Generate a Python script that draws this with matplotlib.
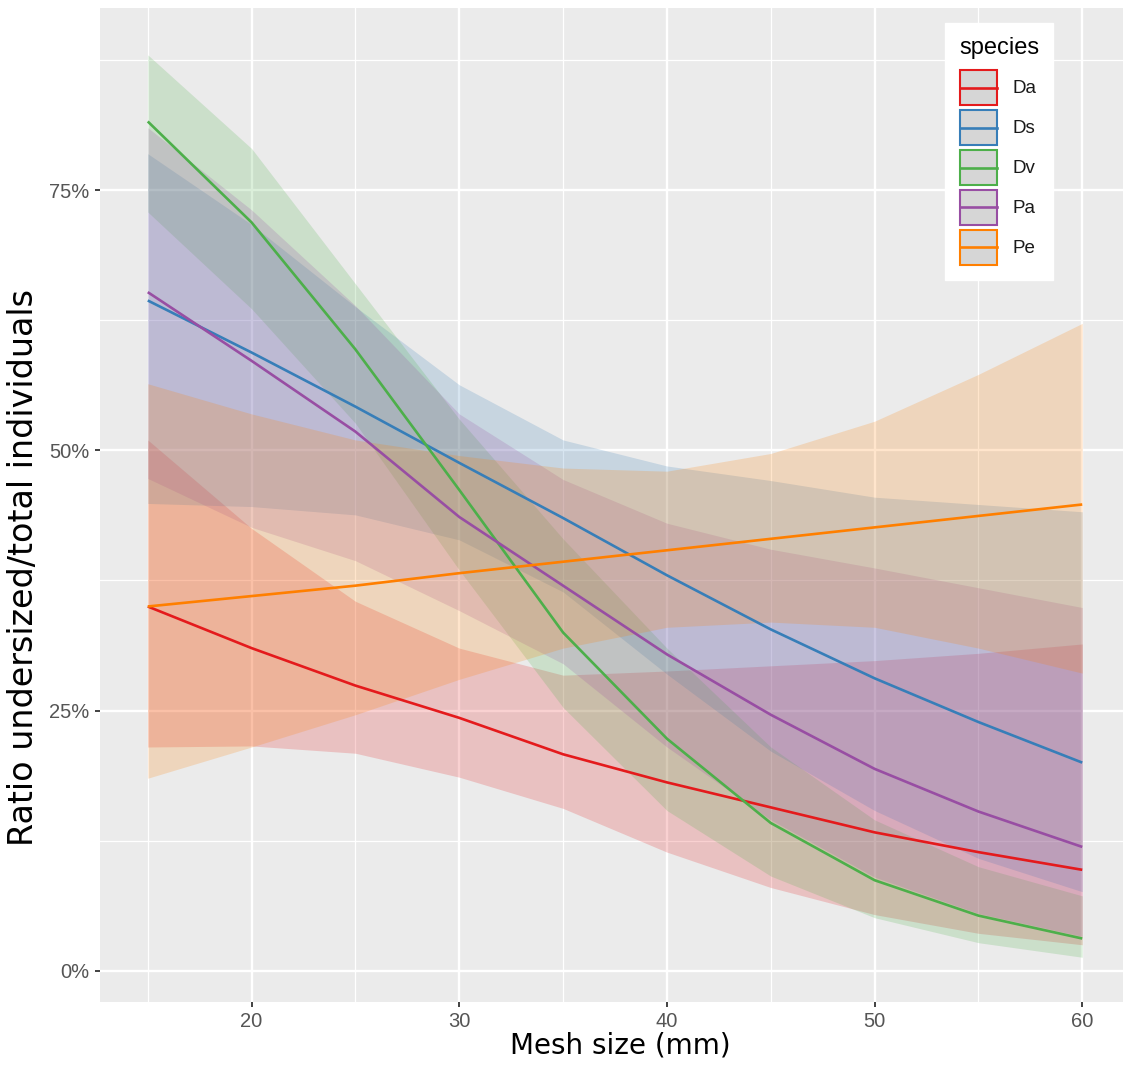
import numpy as np
import matplotlib
matplotlib.use("Agg")
import matplotlib.pyplot as plt
from matplotlib.patches import Rectangle
from matplotlib.lines import Line2D
from matplotlib.ticker import FixedLocator, FuncFormatter

# predicted ratio (%) and confidence band per species, by mesh size (mm)
mesh = [15, 20, 25, 30, 35, 40, 45, 50, 55, 60]
species = ["Da", "Ds", "Dv", "Pa", "Pe"]

Da_fit = [35.0, 31.0, 27.4, 24.3, 20.8, 18.1, 15.7, 13.3, 11.4, 9.7]
Da_lo = [21.5, 21.6, 20.9, 18.6, 15.6, 11.4, 8.0, 5.4, 3.6, 2.5]
Da_hi = [51.0, 42.5, 35.5, 31.0, 28.4, 28.8, 29.3, 29.8, 30.5, 31.4]

Ds_fit = [64.4, 59.4, 54.2, 48.8, 43.5, 38.0, 32.8, 28.1, 23.9, 20.0]
Ds_lo = [44.9, 44.6, 43.8, 41.4, 36.4, 28.5, 21.1, 15.4, 10.8, 7.6]
Ds_hi = [78.5, 71.7, 63.8, 56.3, 51.0, 48.5, 47.1, 45.5, 44.8, 44.1]

Dv_fit = [81.6, 71.9, 59.7, 46.2, 32.5, 22.3, 14.2, 8.7, 5.3, 3.1]
Dv_lo = [72.9, 63.6, 52.6, 38.5, 25.3, 15.4, 9.1, 5.1, 2.7, 1.3]
Dv_hi = [88.0, 79.0, 66.0, 53.0, 41.5, 31.0, 21.5, 14.5, 10.0, 7.2]

Pa_fit = [65.2, 58.6, 51.8, 43.6, 37.0, 30.4, 24.6, 19.4, 15.3, 11.9]
Pa_lo = [47.3, 42.6, 39.4, 34.6, 29.5, 21.5, 14.5, 9.0, 5.5, 3.3]
Pa_hi = [81.0, 73.1, 63.9, 53.5, 47.2, 43.0, 40.5, 38.7, 36.8, 34.9]

Pe_fit = [35.0, 36.0, 37.0, 38.2, 39.3, 40.4, 41.5, 42.6, 43.7, 44.8]
Pe_lo = [18.5, 21.5, 24.6, 28.0, 31.0, 33.0, 33.5, 33.0, 31.0, 28.6]
Pe_hi = [56.4, 53.5, 51.0, 49.5, 48.3, 48.0, 49.7, 52.8, 57.3, 62.2]

fits = [Da_fit, Ds_fit, Dv_fit, Pa_fit, Pe_fit]
lows = [Da_lo, Ds_lo, Dv_lo, Pa_lo, Pe_lo]
highs = [Da_hi, Ds_hi, Dv_hi, Pa_hi, Pe_hi]
cols = ["#E41A1C", "#377EB8", "#4DAF4A", "#984EA3", "#FF7F00"]


class KeyHandler:
    """grey key box with coloured outline and a line across the middle"""
    def legend_artist(self, legend, orig_handle, fontsize, handlebox):
        x0, y0 = -handlebox.xdescent, -handlebox.ydescent
        w, h = handlebox.width, handlebox.height
        c = orig_handle.get_color()
        box = Rectangle((x0 + 1, y0 + 1), w - 2, h - 2, facecolor="#D6D6D6",
                        edgecolor=c, lw=1.5)
        ln = Line2D([x0 + 1, x0 + w - 1], [y0 + h / 2] * 2, color=c, lw=1.9)
        handlebox.add_artist(box)
        handlebox.add_artist(ln)
        return box


plt.rcParams["font.family"] = ["DejaVu Sans"]

fig = plt.figure(figsize=(11.23, 10.68), dpi=100)
ax = fig.add_axes([100 / 1123, 66 / 1068, 1030 / 1123, 994 / 1068])
ax.set_facecolor("#EBEBEB")
for s in ax.spines.values():
    s.set_visible(False)

# bands first, lines on top
for lo, hi, c in zip(lows, highs, cols):
    ax.fill_between(mesh, lo, hi, color=c, alpha=0.2, linewidth=0)
lines = []
for f, c in zip(fits, cols):
    l, = ax.plot(mesh, f, color=c, lw=1.9, solid_capstyle="butt")
    lines.append(l)

ax.set_xlim(12.7, 62.3)
ax.set_ylim(-3.0, 92.5)

ax.xaxis.set_major_locator(FixedLocator([20, 30, 40, 50, 60]))
ax.xaxis.set_minor_locator(FixedLocator([15, 25, 35, 45, 55]))
ax.yaxis.set_major_locator(FixedLocator([0, 25, 50, 75]))
ax.yaxis.set_minor_locator(FixedLocator([12.5, 37.5, 62.5, 87.5]))
ax.yaxis.set_major_formatter(FuncFormatter(lambda v, p: "%d%%" % v))

ax.set_axisbelow(True)
ax.grid(which="major", color="white", lw=1.7)
ax.grid(which="minor", color="white", lw=0.9)
ax.tick_params(which="major", length=3.5, width=1.3, color="#333333",
               labelcolor="#555555", labelsize=14.5, pad=4)
ax.tick_params(which="minor", length=0)
for lab in ax.get_xticklabels() + ax.get_yticklabels():
    lab.set_fontfamily("Liberation Sans")

ax.set_xlabel("Mesh size (mm)", fontsize=20, va="center")
ax.xaxis.set_label_coords(0.505, -0.0433)
ax.set_ylabel("Ratio undersized/total individuals", fontsize=24, va="center")
ax.yaxis.set_label_coords(-0.0738, 0.4376)

leg = ax.legend(lines, species, title="species",
                handler_map={Line2D: KeyHandler()},
                loc="upper left", bbox_to_anchor=(945 / 1123, 1 - 23 / 1068),
                bbox_transform=fig.transFigure, borderaxespad=0,
                prop={"family": "Liberation Sans", "size": 13.5},
                title_fontproperties={"family": "Liberation Sans", "size": 17},
                handlelength=2.08, handleheight=2.74, labelspacing=0.1,
                handletextpad=0.75, borderpad=0.75, frameon=True,
                fancybox=False, framealpha=1, edgecolor="white")
leg._legend_box.align = "left"
leg._legend_box.sep = 7
for t in leg.get_texts():
    t.set_color("#1A1A1A")

fig.savefig("out.png", dpi=100, facecolor="white")
